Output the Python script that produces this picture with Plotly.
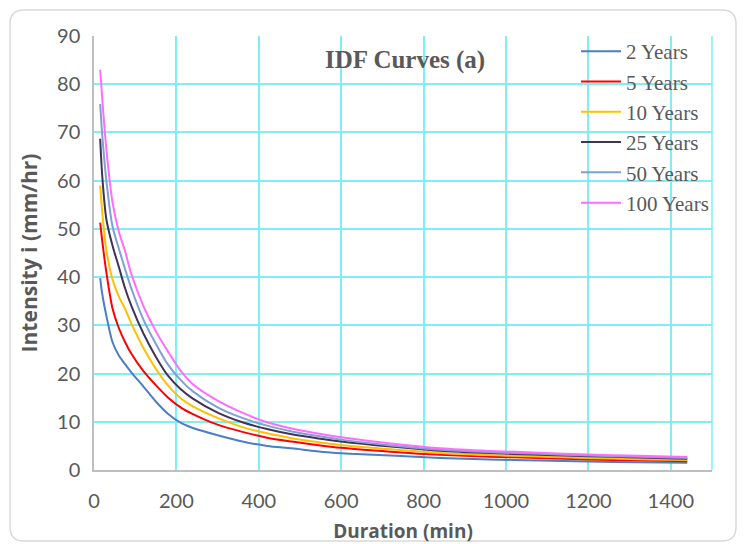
import plotly.graph_objects as go

# ---- data ----
duration = [15, 20, 30, 45, 60, 75, 90, 120, 150, 180, 210, 240, 300, 360,
            420, 480, 540, 600, 720, 840, 960, 1080, 1200, 1320, 1440]

i_2yr = [39.8, 36.5, 32.0, 26.5, 23.8, 22.0, 20.3, 17.3, 14.2, 11.6, 9.8, 8.7, 7.2, 5.9,
         5.0, 4.5, 3.9, 3.45, 3.0, 2.5, 2.2, 1.95, 1.75, 1.6, 1.5]
i_5yr = [51.3, 47.5, 41.0, 33.5, 29.5, 26.6, 24.2, 20.5, 17.6, 15.0, 13.0, 11.6, 9.4, 7.9,
         6.7, 5.9, 5.2, 4.6, 3.8, 3.15, 2.75, 2.5, 2.2, 2.0, 1.8]
i_10yr = [59.0, 53.5, 45.6, 39.5, 36.0, 33.5, 30.5, 25.3, 21.0, 17.5, 14.9, 13.2, 10.8, 8.9,
          7.6, 6.6, 5.8, 5.2, 4.3, 3.55, 3.1, 2.8, 2.5, 2.25, 2.05]
i_25yr = [68.7, 61.0, 52.0, 46.5, 42.2, 37.8, 34.2, 28.3, 23.5, 19.5, 16.8, 14.8, 11.9, 9.9,
          8.5, 7.4, 6.6, 5.9, 4.85, 4.0, 3.5, 3.15, 2.85, 2.6, 2.35]
i_50yr = [75.9, 69.5, 60.0, 50.5, 46.0, 41.8, 37.8, 31.2, 26.2, 21.8, 18.7, 16.3, 13.0, 10.8,
          9.2, 8.0, 7.1, 6.3, 5.1, 4.2, 3.7, 3.35, 3.0, 2.75, 2.5]
i_100yr = [83.0, 77.0, 66.5, 55.5, 49.5, 45.5, 40.8, 34.0, 28.8, 24.5, 20.6, 17.8, 14.4, 11.9,
           9.9, 8.6, 7.6, 6.8, 5.5, 4.5, 3.95, 3.6, 3.2, 2.95, 2.7]

series_names = ["2 Years", "5 Years", "10 Years", "25 Years", "50 Years", "100 Years"]
series_values = [i_2yr, i_5yr, i_10yr, i_25yr, i_50yr, i_100yr]
series_colors = ["#4A7EC6", "#FF0000", "#FFC000", "#3F3358", "#7FA0D4", "#FF6CFF"]

x_ticks = [0, 200, 400, 600, 800, 1000, 1200, 1400]
y_ticks = [0, 10, 20, 30, 40, 50, 60, 70, 80, 90]

# ---- figure ----
W, H = 744, 544
L, R, T, B = 94, 32, 36, 74
pw, ph = W - L - R, H - T - B

fig = go.Figure()
for name, vals, col in zip(series_names, series_values, series_colors):
    fig.add_trace(go.Scatter(x=duration, y=vals, name=name, mode="lines",
                             line=dict(color=col, width=2, shape="spline", smoothing=0.8)))

grid_col = "#80EEF5"
tick_font = dict(family="Lato, Open Sans, sans-serif", size=20, color="#595959")
title_font = dict(family="Open Sans, sans-serif", size=19, color="#595959")

fig.update_layout(
    width=W, height=H,
    margin=dict(l=L, r=R, t=T, b=B),
    paper_bgcolor="white", plot_bgcolor="white",
    showlegend=True,
    legend=dict(x=(576 - L) / pw, y=(470 - 31) / ph, xanchor="left", yanchor="top",
                bgcolor="rgba(0,0,0,0)",
                font=dict(family="Liberation Serif, Times New Roman, serif", size=21, color="#595959"),
                itemwidth=40, tracegroupgap=0),
    xaxis=dict(range=[0, 1500], tickvals=x_ticks, showgrid=True, gridcolor=grid_col, gridwidth=1.5,
               zeroline=False, showline=True, linecolor="#BFBFBF", linewidth=1.5,
               ticks="", tickfont=tick_font, ticklabelstandoff=12, automargin=False,
               title=dict(text="<b>Duration (min)</b>", font=title_font, standoff=16)),
    yaxis=dict(range=[0, 90], tickvals=y_ticks, showgrid=True, gridcolor=grid_col, gridwidth=1.5,
               zeroline=False, showline=True, linecolor="#BFBFBF", linewidth=1.5,
               ticks="", tickfont=tick_font, ticklabelstandoff=8, automargin=False,
               title=dict(text="<b>Intensity i (mm/hr)</b>",
                          font=dict(family="Open Sans, sans-serif", size=21, color="#595959"),
                          standoff=14)),
)

# right border of the plot area (cyan)
fig.add_shape(type="line", xref="paper", yref="paper", x0=1, x1=1, y0=0, y1=1,
              line=dict(color=grid_col, width=1.5), layer="below")

# chart title inside plot area
fig.add_annotation(text="<b>IDF Curves (a)</b>", xref="paper", yref="paper",
                   x=(405 - L) / pw, y=(470 - 60) / ph, xanchor="center", yanchor="middle",
                   showarrow=False,
                   font=dict(family="Liberation Serif, Times New Roman, serif", size=25, color="#595959"))

# rounded outer chart border
def px(xp):
    return (xp - L) / pw

def py(yp):
    return (H - B - yp) / ph

x0, x1, y0, y1, r = 10, 736, 10, 541, 14
path = (f"M {px(x0 + r)} {py(y0)} L {px(x1 - r)} {py(y0)} Q {px(x1)} {py(y0)} {px(x1)} {py(y0 + r)} "
        f"L {px(x1)} {py(y1 - r)} Q {px(x1)} {py(y1)} {px(x1 - r)} {py(y1)} "
        f"L {px(x0 + r)} {py(y1)} Q {px(x0)} {py(y1)} {px(x0)} {py(y1 - r)} "
        f"L {px(x0)} {py(y0 + r)} Q {px(x0)} {py(y0)} {px(x0 + r)} {py(y0)} Z")
fig.add_shape(type="path", path=path, xref="paper", yref="paper",
              line=dict(color="#D9D9D9", width=1.5), layer="below")

fig.write_html("out.html")
